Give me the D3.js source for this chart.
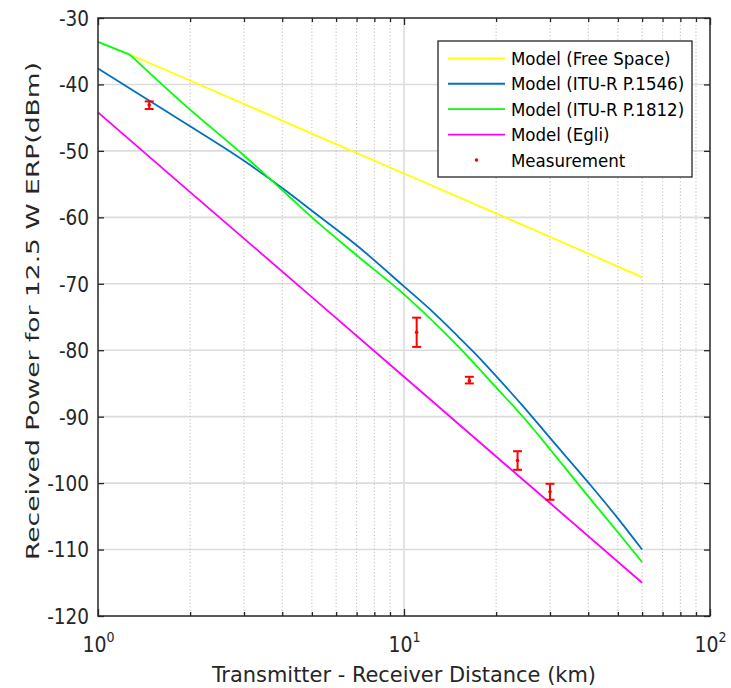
<!DOCTYPE html>
<html>
<head>
<meta charset="utf-8">
<script src="https://cdn.jsdelivr.net/npm/d3@7/dist/d3.min.js"></script>
<style>
  html, body { margin: 0; padding: 0; background: #fff; }
  svg { display: block; }
</style>
</head>
<body>
<svg id="chart" width="731" height="688"></svg>
<script>
// ---- data ----
const freeSpaceDist = [1.27, 2, 5, 10, 20, 60];
const freeSpaceDb   = [-35.5, -39.4, -47.4, -53.4, -59.4, -69.0];

const p1546Dist = [1, 2, 3, 4, 5, 7, 10, 12, 15, 17, 20, 25, 30, 40, 50, 60];
const p1546Db   = [-37.6, -46.3, -51.5, -55.6, -59.0, -64.2, -70.4, -73.6, -77.9, -80.4, -83.9, -88.9, -93.2, -99.9, -105.3, -110.0];

const p1812Dist = [1, 1.27, 2, 3, 3.47, 5, 7, 10, 15, 20, 25, 30, 40, 50, 60];
const p1812Db   = [-33.6, -35.5, -43.8, -50.7, -53.3, -60.0, -65.7, -71.6, -79.4, -85.6, -90.5, -94.9, -102.0, -107.4, -111.9];

const egliDist = [1, 2, 5, 10, 20, 30, 60];
const egliDb   = [-44.2, -56.2, -72.0, -84.0, -96.0, -103.0, -115.0];

const measDist  = [1.47, 11.0, 16.35, 23.5, 30.0];
const measMean  = [-43.1, -77.3, -84.6, -96.6, -101.3];
const measUpper = [-42.55, -75.1, -84.0, -95.2, -100.1];
const measLower = [-43.7, -79.5, -85.0, -98.0, -102.5];

const yTicks = [-120, -110, -100, -90, -80, -70, -60, -50, -40, -30];
const xMajorTicks = [1, 10, 100];
const xMajorExp = ["0", "1", "2"];
const xMinorTicks = [2, 3, 4, 5, 6, 7, 8, 9, 20, 30, 40, 50, 60, 70, 80, 90];

const seriesNames  = ["Model (Free Space)", "Model (ITU-R P.1546)", "Model (ITU-R P.1812)", "Model (Egli)", "Measurement"];
const seriesColors = ["#ffff00", "#0072bd", "#00ff00", "#ff00ff", "#ff0000"];

const xLabel = "Transmitter - Receiver Distance (km)";
const yLabel = "Received Power for 12.5 W ERP(dBm)";

// ---- layout ----
const L = 98, R = 710, T = 18, B = 616;
const svg = d3.select("#chart");
const x = d3.scaleLog().domain([1, 100]).range([L, R]);
const y = d3.scaleLinear().domain([-120, -30]).range([B, T]);
const axisColor = "#262626";
const condensed = "'DejaVu Sans Condensed', 'DejaVu Sans', sans-serif";

// ---- grid ----
const grid = svg.append("g");
grid.selectAll("line.hg").data(yTicks.filter(v => v > -120 && v < -30)).join("line")
  .attr("x1", L).attr("x2", R).attr("y1", d => y(d)).attr("y2", d => y(d))
  .attr("stroke", "#dcdcdc").attr("stroke-width", 1.6);
grid.selectAll("line.vg").data(xMajorTicks.filter(v => v > 1 && v < 100)).join("line")
  .attr("x1", d => x(d)).attr("x2", d => x(d)).attr("y1", T).attr("y2", B)
  .attr("stroke", "#dcdcdc").attr("stroke-width", 1.6);
grid.selectAll("line.vm").data(xMinorTicks).join("line")
  .attr("x1", d => x(d)).attr("x2", d => x(d)).attr("y1", T).attr("y2", B)
  .attr("stroke", "#bdbdbd").attr("stroke-width", 1).attr("stroke-dasharray", "1.2,2.2");

// ---- lines ----
const straight = d3.line().x(d => x(d[0])).y(d => y(d[1]));
const smooth = d3.line().x(d => x(d[0])).y(d => y(d[1])).curve(d3.curveMonotoneX);
function pts(dist, db) { return dist.map((d, j) => [d, db[j]]); }
function drawPath(data, gen, color) {
  svg.append("path").datum(data).attr("d", gen)
    .attr("fill", "none").attr("stroke", color).attr("stroke-width", 1.8)
    .attr("stroke-linejoin", "round");
}
drawPath(pts(freeSpaceDist, freeSpaceDb), straight, seriesColors[0]);
drawPath(pts(p1546Dist, p1546Db), smooth, seriesColors[1]);
const g1812 = pts(p1812Dist, p1812Db);
drawPath(g1812.slice(0, 2), straight, seriesColors[2]);   // sharp corner at 1.27 km
drawPath(g1812.slice(1), smooth, seriesColors[2]);
drawPath(pts(egliDist, egliDb), straight, seriesColors[3]);

// ---- error bars ----
const meas = measDist.map((d, i) => ({ d, m: measMean[i], hi: measUpper[i], lo: measLower[i] }));
const eb = svg.append("g").attr("stroke", seriesColors[4]).attr("stroke-width", 2);
eb.selectAll("line.v").data(meas).join("line")
  .attr("x1", d => x(d.d)).attr("x2", d => x(d.d)).attr("y1", d => y(d.hi)).attr("y2", d => y(d.lo));
eb.selectAll("line.t").data(meas).join("line")
  .attr("x1", d => x(d.d) - 4.5).attr("x2", d => x(d.d) + 4.5).attr("y1", d => y(d.hi)).attr("y2", d => y(d.hi));
eb.selectAll("line.b").data(meas).join("line")
  .attr("x1", d => x(d.d) - 4.5).attr("x2", d => x(d.d) + 4.5).attr("y1", d => y(d.lo)).attr("y2", d => y(d.lo));
svg.append("g").selectAll("circle").data(meas).join("circle")
  .attr("cx", d => x(d.d)).attr("cy", d => y(d.m)).attr("r", 1.8).attr("fill", seriesColors[4]);

// ---- axes ----
function styleAxis(g) {
  g.select(".domain").remove();
  g.selectAll(".tick line").attr("stroke", axisColor).attr("stroke-width", 1.3);
}
// left
svg.append("g").attr("transform", `translate(${L},0)`)
  .call(d3.axisLeft(y).tickValues(yTicks).tickSize(-6).tickPadding(9).tickFormat(d => String(d)))
  .call(styleAxis)
  .call(g => g.selectAll("text").attr("font-family", condensed).attr("font-size", 20.5)
    .attr("fill", axisColor).attr("dy", "0.36em"));
// right
svg.append("g").attr("transform", `translate(${R},0)`)
  .call(d3.axisRight(y).tickValues(yTicks).tickSize(-6).tickFormat(""))
  .call(styleAxis);
// bottom major
const bottom = svg.append("g").attr("transform", `translate(0,${B})`)
  .call(d3.axisBottom(x).tickValues(xMajorTicks).tickSize(-7).tickFormat(""))
  .call(styleAxis);
bottom.selectAll(".tick").each(function (d, i) {
  const t = d3.select(this).append("text")
    .attr("y", 36).attr("text-anchor", "middle")
    .attr("font-family", condensed).attr("fill", axisColor);
  t.append("tspan").attr("font-size", 21).text("10");
  t.append("tspan").attr("font-size", 14).attr("dy", -10).text(xMajorExp[i]);
});
svg.append("g").attr("transform", `translate(0,${B})`)
  .call(d3.axisBottom(x).tickValues(xMinorTicks).tickSize(-4).tickFormat(""))
  .call(styleAxis);
// top
svg.append("g").attr("transform", `translate(0,${T})`)
  .call(d3.axisTop(x).tickValues(xMajorTicks).tickSize(-7).tickFormat(""))
  .call(styleAxis);
svg.append("g").attr("transform", `translate(0,${T})`)
  .call(d3.axisTop(x).tickValues(xMinorTicks).tickSize(-4).tickFormat(""))
  .call(styleAxis);
// box
svg.append("rect").attr("x", L).attr("y", T).attr("width", R - L).attr("height", B - T)
  .attr("fill", "none").attr("stroke", axisColor).attr("stroke-width", 1.5);

// ---- axis labels ----
svg.append("text").attr("x", (L + R) / 2).attr("y", 682).attr("text-anchor", "middle")
  .attr("font-family", condensed).attr("font-size", 21).attr("fill", axisColor)
  .attr("textLength", 384).attr("lengthAdjust", "spacingAndGlyphs")
  .text(xLabel);
svg.append("text").attr("transform", "translate(38.5,311) rotate(-90)")
  .attr("text-anchor", "middle")
  .attr("font-family", "'DejaVu Sans', sans-serif").attr("font-size", 18.5).attr("fill", axisColor)
  .attr("textLength", 498).attr("lengthAdjust", "spacingAndGlyphs")
  .text(yLabel);

// ---- legend ----
const lg = svg.append("g");
lg.append("rect").attr("x", 438).attr("y", 41).attr("width", 254).attr("height", 136)
  .attr("fill", "#fff").attr("stroke", axisColor).attr("stroke-width", 1.3);
const legY = d3.scaleLinear().domain([0, 4]).range([58.3, 160]);
seriesNames.forEach((name, i) => {
  const cy = legY(i);
  if (i < 4) {
    lg.append("line").attr("x1", 448).attr("x2", 505).attr("y1", cy).attr("y2", cy)
      .attr("stroke", seriesColors[i]).attr("stroke-width", 1.8);
  } else {
    lg.append("circle").attr("cx", 476.5).attr("cy", cy).attr("r", 1.8).attr("fill", seriesColors[i]);
  }
  lg.append("text").attr("x", 511).attr("y", cy).attr("dy", "0.36em")
    .attr("font-family", condensed).attr("font-size", 18.5).attr("fill", "#000")
    .text(name);
});
</script>
</body>
</html>
